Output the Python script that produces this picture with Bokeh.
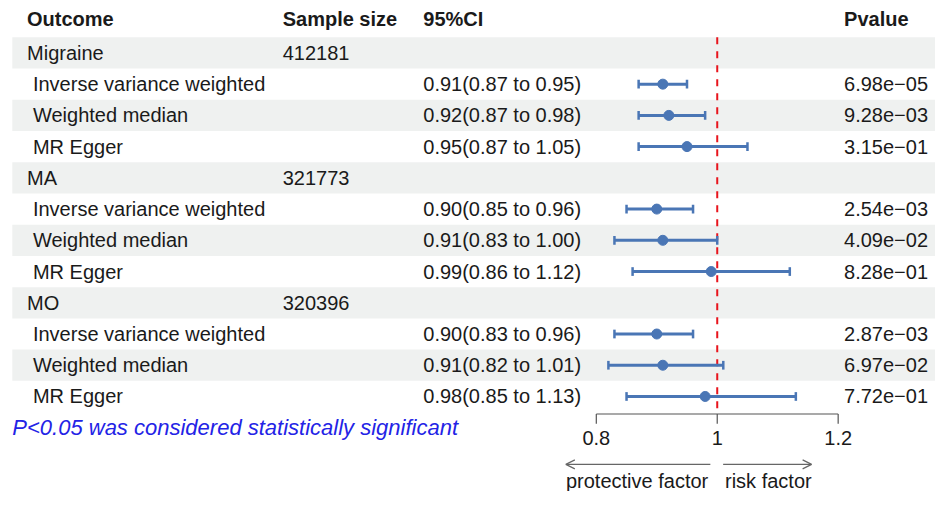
from bokeh.plotting import figure
from bokeh.models import Range1d, Arrow, OpenHead, ColumnDataSource
from bokeh.core.properties import value
from bokeh.embed import file_html
from bokeh.resources import INLINE

# ---------------- data ----------------
outcomes = ["Migraine", "MA", "MO"]
sample_sizes = ["412181", "321773", "320396"]
methods = ["Inverse variance weighted", "Weighted median", "MR Egger"]
or_est = [0.91, 0.92, 0.95, 0.90, 0.91, 0.99, 0.90, 0.91, 0.98]
ci_low = [0.87, 0.87, 0.87, 0.85, 0.83, 0.86, 0.83, 0.82, 0.85]
ci_high = [0.95, 0.98, 1.05, 0.96, 1.00, 1.12, 0.96, 1.01, 1.13]
pvalues = ["6.98e\u221205", "9.28e\u221203", "3.15e\u221201",
           "2.54e\u221203", "4.09e\u221202", "8.28e\u221201",
           "2.87e\u221203", "6.97e\u221202", "7.72e\u221201"]
headers = ["Outcome", "Sample size", "95%CI", "Pvalue"]
ticks = [0.8, 1.0, 1.2]
tick_labels = ["0.8", "1", "1.2"]
ref_value = 1.0
footnote = "P<0.05 was considered statistically significant"

# ---------------- layout ----------------
FONT = value("Liberation Sans")
TXT = "#1a1a1a"
BAND = "#eff1f0"
BLUE = "#4a76b5"
FS = "20px"

W, H = 935, 491
# layout units: a 951 x 507 design grid squeezed into the canvas
x_range = Range1d(0, 951)
y_range = Range1d(507, 0)
# forest scale: 1.0 at 729 units, 615 units per OR unit
def px2or(px):
    return 1 + (px - 729) / 615.0

p = figure(width=W, height=H, x_range=x_range, y_range=y_range,
           output_backend="svg", toolbar_location=None,
           x_axis_location=None, y_axis_location=None,
           min_border=0, min_border_left=0, min_border_right=0,
           min_border_top=0, min_border_bottom=0)
p.extra_x_ranges = {"or": Range1d(px2or(0), px2or(951))}
p.grid.visible = False
p.outline_line_color = None
p.background_fill_color = "white"
p.border_fill_color = "white"

top0 = 38.0
rh = 32.25
nrows = 12
yc = [top0 + rh * (i + 0.5) for i in range(nrows)]

# alternating bands
band_top = [top0 + rh * i for i in range(0, nrows, 2)]
p.quad(left=12, right=951, top=band_top, bottom=[t + rh for t in band_top],
       fill_color=BAND, line_color=None)

# header
hx = [27, 287, 430, 858]
p.text(x=hx, y=[19] * 4, text=headers, text_font=FONT, text_font_size=FS,
       text_font_style="bold", text_color=TXT, text_baseline="middle")

# group rows
g_rows = [4 * g for g in range(len(outcomes))]
p.text(x=[27] * len(outcomes), y=[yc[r] for r in g_rows], text=outcomes,
       text_font=FONT, text_font_size=FS, text_color=TXT, text_baseline="middle")
p.text(x=[287] * len(outcomes), y=[yc[r] for r in g_rows], text=sample_sizes,
       text_font=FONT, text_font_size=FS, text_color=TXT, text_baseline="middle")

# method rows
m_rows = [4 * g + 1 + m for g in range(len(outcomes)) for m in range(len(methods))]
m_y = [yc[r] for r in m_rows]
m_names = [methods[m] for g in range(len(outcomes)) for m in range(len(methods))]
ci_txt = [f"{e:.2f}({l:.2f} to {h:.2f})" for e, l, h in zip(or_est, ci_low, ci_high)]
p.text(x=[33] * len(m_names), y=m_y, text=m_names, text_font=FONT,
       text_font_size=FS, text_color=TXT, text_baseline="middle")
p.text(x=[430] * len(ci_txt), y=m_y, text=ci_txt, text_font=FONT,
       text_font_size=FS, text_color=TXT, text_baseline="middle")
p.text(x=[858] * len(pvalues), y=m_y, text=pvalues, text_font=FONT,
       text_font_size=FS, text_color=TXT, text_baseline="middle")

# reference line
p.segment(x0=[ref_value], x1=[ref_value], y0=[top0], y1=[top0 + rh * nrows + 2],
          x_range_name="or", line_color="#e8141c", line_width=2, line_dash="7 7")

# CI bars
src = ColumnDataSource(dict(est=or_est, lo=ci_low, hi=ci_high, y=m_y,
                            y0=[y - 4.5 for y in m_y], y1=[y + 4.5 for y in m_y]))
p.segment(x0="lo", x1="hi", y0="y", y1="y", source=src, x_range_name="or",
          line_color=BLUE, line_width=3)
p.segment(x0="lo", x1="lo", y0="y0", y1="y1", source=src, x_range_name="or",
          line_color=BLUE, line_width=2.5)
p.segment(x0="hi", x1="hi", y0="y0", y1="y1", source=src, x_range_name="or",
          line_color=BLUE, line_width=2.5)
p.scatter(x="est", y="y", source=src, x_range_name="or", size=10,
          fill_color=BLUE, line_color=BLUE)

# x axis (drawn)
ax_y = 427
AX = "#555555"
p.segment(x0=[ticks[0]], x1=[ticks[-1]], y0=[ax_y], y1=[ax_y], x_range_name="or",
          line_color=AX, line_width=1.2)
p.segment(x0=ticks, x1=ticks, y0=[ax_y] * len(ticks), y1=[ax_y + 10] * len(ticks),
          x_range_name="or", line_color=AX, line_width=1.2)
p.text(x=ticks, y=[452] * len(ticks), text=tick_labels, x_range_name="or",
       text_font=FONT, text_font_size=FS, text_color=TXT,
       text_align="center", text_baseline="middle")

# footnote
p.text(x=[12], y=[441], text=[footnote], text_font=FONT, text_font_size="22px",
       text_font_style="italic", text_color="#2323e6", text_baseline="middle")

# direction arrows
AR = "#666666"
p.add_layout(Arrow(end=OpenHead(size=9, line_color=AR, line_width=1.2),
                   x_start=722, y_start=479, x_end=575, y_end=479,
                   line_color=AR, line_width=1.2))
p.add_layout(Arrow(end=OpenHead(size=9, line_color=AR, line_width=1.2),
                   x_start=735, y_start=479, x_end=825, y_end=479,
                   line_color=AR, line_width=1.2))
p.text(x=[647.5, 781], y=[496, 496], text=["protective factor", "risk factor"],
       text_font=FONT, text_font_size=FS, text_color=TXT,
       text_align="center", text_baseline="middle")

open("out.html", "w").write(file_html(p, INLINE))
